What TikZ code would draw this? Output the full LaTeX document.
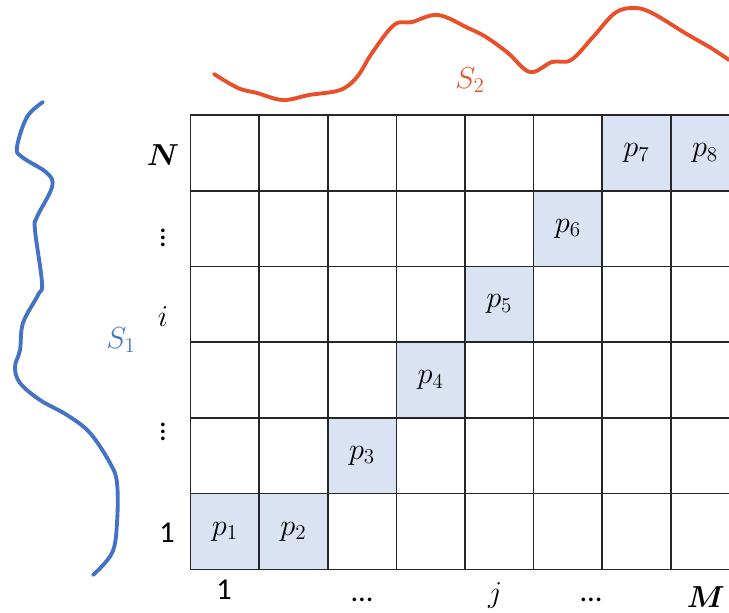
\documentclass[tikz,border=0pt]{standalone}
\usepackage{fontspec}
\setmainfont{Carlito}
\usepackage{amsmath,bm}
\definecolor{cellblue}{HTML}{DAE3F3}
\definecolor{curvered}{HTML}{E8502A}
\definecolor{curveblue}{HTML}{4472C4}
\begin{document}
\begin{tikzpicture}[
                x=0.02cm, y=-0.02cm,
                font=\LARGE,
                % celle della griglia
                cell/.style={
                    draw=black!85,
                    line width=0.9pt,
                    minimum width=1.372cm,
                    minimum height=1.514cm,
                    inner sep=0pt,
                    outer sep=0pt
                },
                hit/.style={cell, fill=cellblue},
                curve/.style={line width=2.2pt, line cap=round, line join=round}
            ]
                \useasboundingbox (0,0) rectangle (729,612);

                % ========================================================
                % 1. Griglia N x M
                % ========================================================
                \foreach \r in {1,...,6}
                    \foreach \c in {1,...,8}
                        \node[cell] (c\r-\c) at ({190.6+68.6*(\c-0.5)}, {569.3-75.7*(\r-0.5)}) {};

                % Celle del percorso
                \foreach \r/\c/\k in {1/1/1, 1/2/2, 2/3/3, 3/4/4, 4/5/5, 5/6/6, 6/7/7, 6/8/8}
                    \node[hit] (p\k) at (c\r-\c) {$p_{\k}$};

                % ========================================================
                % 2. Etichette delle righe
                % ========================================================
                \node (rowN) at (163, 155) {$\bm{N}$};
                \node (rowdotsA) at (163, 233) {$\vdots$};
                \node (rowi) at (163, 317) {$i$};
                \node (rowdotsB) at (163, 427) {$\vdots$};
                \node (row1) at (167, 533) {1};

                % ========================================================
                % 3. Etichette delle colonne
                % ========================================================
                \node (col1) at (224, 590) {1};
                \node (coldotsA) at (362, 600) {\dots};
                \node (colj) at (495, 595) {$j$};
                \node (coldotsB) at (591, 600) {\dots};
                \node (colM) at (706, 597) {$\bm{M}$};

                % ========================================================
                % 4. Serie S2 (in alto)
                % ========================================================
                \draw[curve, curvered] plot[smooth, tension=0.6] coordinates {
                    (214,74) (238,88) (257,93) (283,100) (309,95) (340,90)
                    (357,77) (372,53) (394,25) (412,22) (438,15) (468,28)
                    (486,37) (508,53) (530,72) (552,62) (571,60) (593,37)
                    (615,13) (634,8) (652,13) (685,33) (711,48) (729,60)};
                \node[text=curvered] (S2) at (470, 80) {$S_2$};

                % ========================================================
                % 5. Serie S1 (a sinistra)
                % ========================================================
                \draw[curve, curveblue] plot[smooth, tension=0.6] coordinates {
                    (43,102) (27,117) (17,147) (22,157) (47,173) (52,187)
                    (37,217) (35,230) (42,283) (38,295) (23,323) (20,350)
                    (15,367) (20,383) (40,400) (67,415) (90,433) (110,463)
                    (117,483) (117,523) (112,553) (93,575)};
                \node[text=curveblue] (S1) at (121, 340) {$S_1$};

            \end{tikzpicture}
\end{document}
